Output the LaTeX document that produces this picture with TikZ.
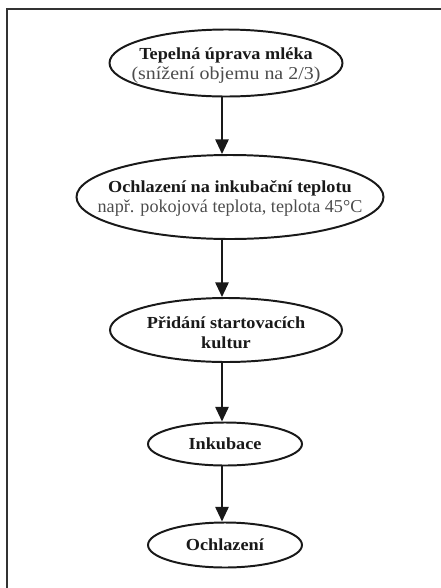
\documentclass[tikz,border=0pt]{standalone}
\usepackage{fontspec}
\setmainfont{Liberation Serif}[BoldFeatures = {FakeStretch = 1.08}]
\usetikzlibrary{shapes.geometric}
\usetikzlibrary{arrows.meta}
\newcommand{\colX}{224}
\newcommand{\pxx}{0.025cm}
\newcommand{\podtext}[2][1]{{\fontsize{12.9}{14}\selectfont\addfontfeature{FakeStretch = #1}\color{black!70}#2}}

\tikzset{
	krok/.style = {draw, ellipse, line width = 1.4pt, inner sep = 0pt, black!90},
	popis/.style = {align = center, inner sep = 0pt, text = black!90, font = \fontsize{12}{14}\selectfont},
	sipka/.style = {-{Triangle[length = 10.5pt, width = 9.5pt]}, line width = 1.4pt, black!90}
}

\begin{document}
\begin{tikzpicture}[x = \pxx, y = -\pxx]

		\useasboundingbox (0, 0) rectangle (441, 588);
		% ramecek
		\draw[line width = 2pt, black!80] (441, 9) -- (7, 9) -- (7, 588);
		
		\node[krok, minimum width = 233*\pxx, minimum height = 67*\pxx, label = {[popis, yshift = -2pt]center:\textbf{Tepelná úprava mléka}\\ \podtext[1.1]{(snížení objemu na 2/3)}}] (tepelna) at (\colX + 2, 63) {};
		\node[krok, minimum width = 307*\pxx, minimum height = 84*\pxx, label = {[popis, yshift = -1pt]center:\textbf{Ochlazení na inkubační teplotu}\\ \podtext{např. pokojová teplota, teplota 45°C}}] (ochlazeni) at (\colX + 6, 197) {};
		\node[krok, minimum width = 232*\pxx, minimum height = 64*\pxx, label = {[popis, yshift = -2pt]center:\textbf{Přidání startovacích}\\ \textbf{kultur}}] (pridani) at (\colX + 2, 330) {};
		\node[krok, minimum width = 154*\pxx, minimum height = 43*\pxx, label = {[popis]center:\textbf{Inkubace}}] (inkubace) at (\colX + 1, 444) {};
		\node[krok, minimum width = 154*\pxx, minimum height = 45*\pxx, label = {[popis]center:\textbf{Ochlazení}}] (konec) at (\colX + 1, 545) {};
		
		\draw[sipka] (tepelna.south -| 222, 0) -- (ochlazeni.north -| 222, 0);
		\draw[sipka] (ochlazeni.south -| 222, 0) -- (pridani.north -| 222, 0);
		\draw[sipka] (pridani.south -| 222, 0) -- (inkubace.north -| 222, 0);
		\draw[sipka] (inkubace.south -| 222, 0) -- (konec.north -| 222, 0);
	\end{tikzpicture}
\end{document}
